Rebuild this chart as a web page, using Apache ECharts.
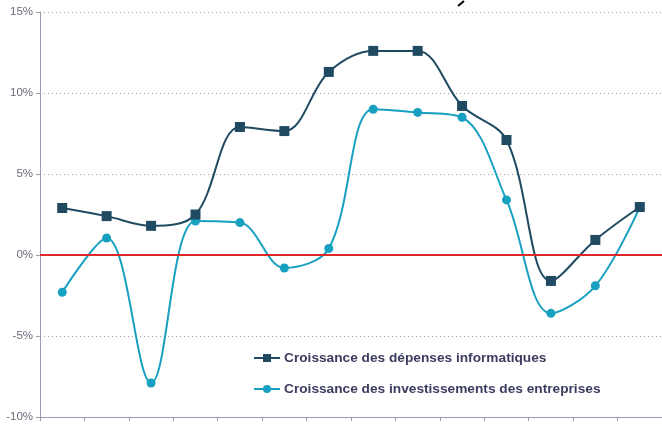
<!DOCTYPE html>
<html>
<head>
<meta charset="utf-8">
<script src="https://cdn.jsdelivr.net/npm/echarts@6/dist/echarts.min.js"></script>
<style>
  html, body { margin: 0; padding: 0; background: #fff; }
  #main { width: 662px; height: 426px; }
</style>
</head>
<body>
<div id="main"></div>
<script>
// données
var categories = ['1', '2', '3', '4', '5', '6', '7', '8', '9', '10', '11', '12', '13', '14'];
var depensesInfo = [2.9, 2.4, 1.8, 2.5, 7.9, 7.65, 11.3, 12.6, 12.6, 9.2, 7.1, -1.6, 0.93, 2.96];
var investEntreprises = [-2.3, 1.05, -7.9, 2.1, 2.0, -0.8, 0.4, 9.0, 8.8, 8.5, 3.4, -3.6, -1.9, 2.96];
var serieNames = ['Croissance des dépenses informatiques', 'Croissance des investissements des entreprises'];

var chart = echarts.init(document.getElementById('main'));

var option = {
  animation: false,
  backgroundColor: '#fff',
  grid: { left: 40, right: 0, top: 12, bottom: 9 },
  legend: {
    orient: 'vertical',
    left: 253,
    top: 351,
    padding: 0,
    itemGap: 17,
    itemWidth: 26,
    itemHeight: 10,
    textStyle: { color: '#3c3c60', fontSize: 13.7, fontWeight: 'bold', fontFamily: 'Liberation Sans', padding: [0, 0, 0, -1] },
    data: serieNames
  },
  xAxis: {
    type: 'category',
    data: categories,
    boundaryGap: true,
    axisLine: { onZero: false, lineStyle: { color: '#9a9ab0', width: 1 } },
    axisTick: { show: true, length: 4, lineStyle: { color: '#9a9ab0' } },
    axisLabel: { show: false },
    splitLine: { show: false }
  },
  yAxis: {
    type: 'value',
    min: -10,
    max: 15,
    interval: 5,
    axisLine: { show: true, lineStyle: { color: '#9a9ab0', width: 1 } },
    axisTick: { show: true, length: 4, lineStyle: { color: '#9a9ab0' } },
    axisLabel: {
      formatter: '{value}%',
      color: '#6a6a7a',
      fontSize: 11.5,
      fontFamily: 'Liberation Sans',
      margin: 7
    },
    splitLine: { show: true, lineStyle: { color: '#9a9ab0', type: [1, 3], width: 1 } }
  },
  series: [
    {
      name: serieNames[0],
      type: 'line',
      data: depensesInfo,
      smooth: 0.35,
      symbol: 'rect',
      symbolSize: 10,
      itemStyle: { color: '#1f4a62' },
      lineStyle: { color: '#1f4a62', width: 2 },
      z: 3,
      markLine: {
        silent: true,
        symbol: 'none',
        label: { show: false },
        lineStyle: { color: '#e02828', type: 'solid', width: 2 },
        data: [{ yAxis: 0 }]
      }
    },
    {
      name: serieNames[1],
      type: 'line',
      data: investEntreprises,
      smooth: 0.35,
      symbol: 'circle',
      symbolSize: 9,
      itemStyle: { color: '#17a0c0' },
      lineStyle: { color: '#17a0c0', width: 2 },
      z: 2
    }
  ],
  graphic: [
    {
      type: 'line',
      shape: { x1: 458, y1: 6, x2: 464, y2: 1 },
      style: { stroke: '#000', lineWidth: 2 }
    }
  ]
};

chart.setOption(option);
</script>
</body>
</html>
